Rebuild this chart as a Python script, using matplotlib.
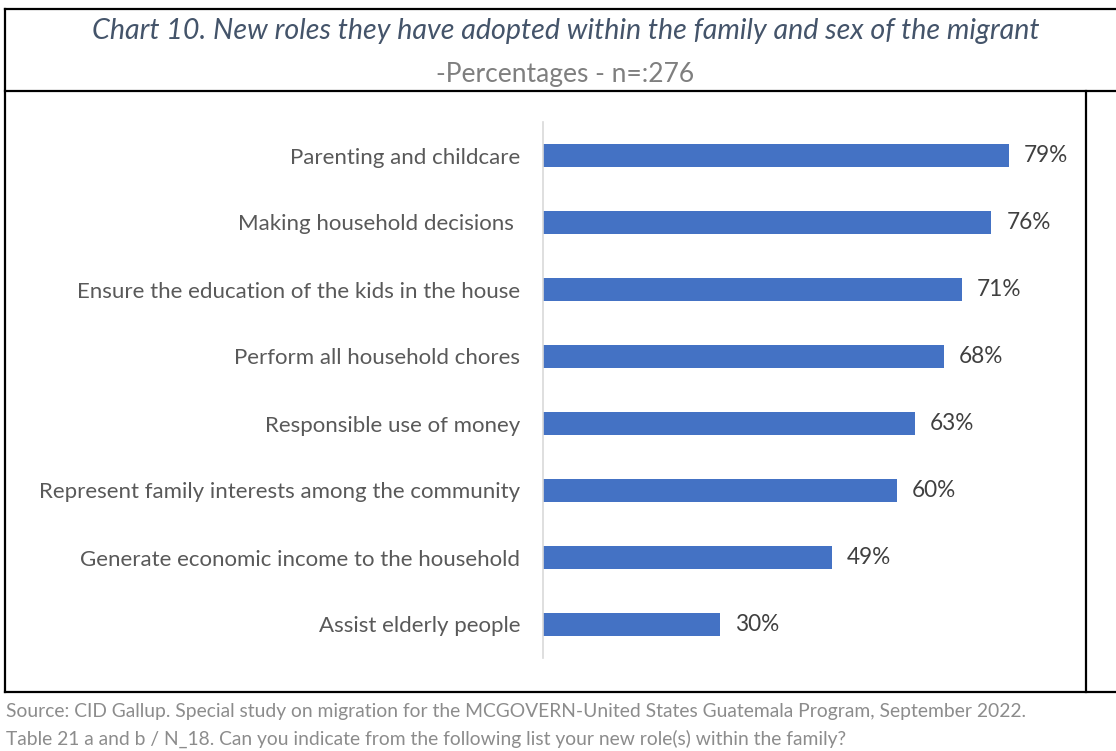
import matplotlib
matplotlib.use("Agg")
import matplotlib.pyplot as plt
from matplotlib.lines import Line2D

W, H = 1116, 751

roles = [
    "Parenting and childcare",
    "Making household decisions ",
    "Ensure the education of the kids in the house",
    "Perform all household chores",
    "Responsible use of money",
    "Represent family interests among the community",
    "Generate economic income to the household",
    "Assist elderly people",
]
shares = [79, 76, 71, 68, 63, 60, 49, 30]

title = "Chart 10. New roles they have adopted within the family and sex of the migrant"
subtitle = "-Percentages - n=:276"
source_lines = [
    "Source: CID Gallup. Special study on migration for the MCGOVERN-United States Guatemala Program, September 2022.",
    "Table 21 a and b / N_18. Can you indicate from the following list your new role(s) within the family?",
]

plt.rcParams['font.family'] = ['Lato', 'DejaVu Sans']


def fx(x):
    return x / W


def fy(y):
    return 1 - y / H


fig = plt.figure(figsize=(W / 100, H / 100), dpi=100)

# plot area: bars start at x=543, categories span y=122..658
ax = fig.add_axes([fx(543), fy(658), fx(85 * 5.9), (658 - 122) / H])
ypos = list(range(len(roles)))
ax.barh(ypos, shares, height=0.35, color="#4472C4", zorder=2)
ax.set_ylim(len(roles) - 0.5, -0.5)
ax.set_xlim(0, 85)
ax.set_yticks(ypos)
ax.set_yticklabels(roles, fontsize=16, color="#595959")
ax.tick_params(axis="y", length=0, pad=16.5)
ax.set_xticks([])
for s in ["top", "right", "bottom"]:
    ax.spines[s].set_visible(False)
ax.spines["left"].set_color("#D9D9D9")
ax.spines["left"].set_linewidth(1.2)

for y, v in zip(ypos, shares):
    ax.annotate(f"{v}%", (v, y), xytext=(15, 0), textcoords="offset pixels",
                ha="left", va="center", fontsize=16.3, color="#404040")

# titles
fig.text(fx(566), fy(39), title, ha="center", va="baseline", fontsize=20.6,
         style="italic", color="#44546A")
fig.text(fx(565), fy(82), subtitle, ha="center", va="baseline", fontsize=19,
         color="#7F7F7F")

# source notes
fig.text(fx(6), fy(717), source_lines[0], ha="left", va="baseline",
         fontsize=13.9, color="#8C8C8C")
fig.text(fx(6), fy(745), source_lines[1], ha="left", va="baseline",
         fontsize=13.9, color="#8C8C8C")

# table frame
frame = [
    ((5, W), (9, 9)),
    ((5, 5), (9, 692)),
    ((5, W), (91, 91)),
    ((1086, 1086), (91, 692)),
    ((5, W), (692, 692)),
]
for xs, ys in frame:
    fig.add_artist(Line2D([fx(x) for x in xs], [fy(y) for y in ys],
                          color="black", linewidth=1.6))

fig.savefig("out.png", dpi=100)
